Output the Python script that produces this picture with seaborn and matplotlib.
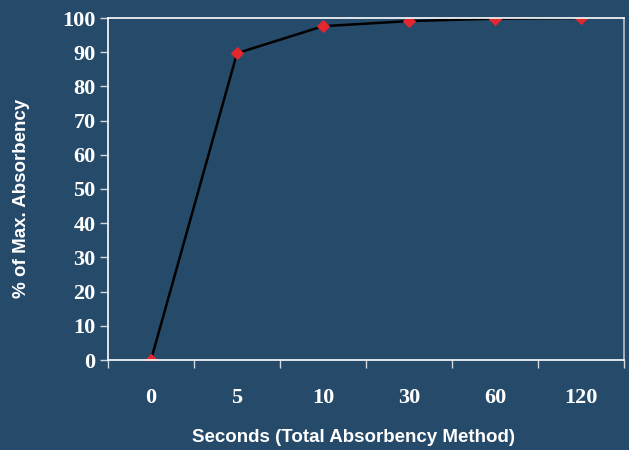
import numpy as np
import pandas as pd
import matplotlib
matplotlib.use("Agg")
import matplotlib.pyplot as plt
import seaborn as sns

seconds = ["0", "5", "10", "30", "60", "120"]
pct_max = [0, 89.7, 97.6, 99.1, 99.8, 100]

bg = "#264a6a"
sns.set_style("white")

df = pd.DataFrame({"seconds": seconds, "pct": pct_max})

fig = plt.figure(figsize=(6.29, 4.5), dpi=100, facecolor=bg)
ax = fig.add_axes([108 / 629, 1 - 360 / 450, 516 / 629, 342 / 450])
ax.set_facecolor(bg)

sns.lineplot(data=df, x="seconds", y="pct", ax=ax, color="black", linewidth=1.8,
             marker="D", markersize=6, markerfacecolor="#e0282e",
             markeredgecolor="#e0282e", sort=False)

ax.set_xlim(-0.5, 5.5)
ax.set_ylim(0, 100)
ax.set_yticks(np.arange(0, 101, 10))
ax.set_xticks(np.arange(len(seconds)))
ax.set_xticks(np.arange(-0.5, len(seconds)), minor=True)
ax.set_xticklabels(seconds, fontfamily="Liberation Serif", fontweight="bold",
                   fontsize=16, color="white")
ax.set_yticklabels([str(v) for v in range(0, 101, 10)], fontfamily="Liberation Serif",
                   fontweight="bold", fontsize=16, color="white")

ax.tick_params(axis="x", which="major", bottom=True, length=0, pad=20)
ax.tick_params(axis="x", which="minor", bottom=True, length=6, width=1,
               color="#d0d8e0", direction="out")
ax.tick_params(axis="y", left=True, length=6, width=1, color="#d0d8e0",
               direction="out", pad=3)

for side in ["left", "top", "bottom"]:
    ax.spines[side].set_color("white")
    ax.spines[side].set_linewidth(1.2)
ax.spines["right"].set_color("#b8c2cc")
ax.spines["right"].set_linewidth(1.2)

ax.set_xlabel("")
ax.set_ylabel("")
label_font = dict(family="Liberation Sans", weight="bold", size=13.5, color="white")
fig.text(354 / 629, 1 - 438 / 450, "Seconds (Total Absorbency Method)",
         ha="center", va="center", **label_font)
fig.text(22 / 629, 1 - 198 / 450, "% of Max. Absorbency", rotation=90,
         ha="center", va="center", **label_font)

fig.savefig("out.png", dpi=100, facecolor=bg)
